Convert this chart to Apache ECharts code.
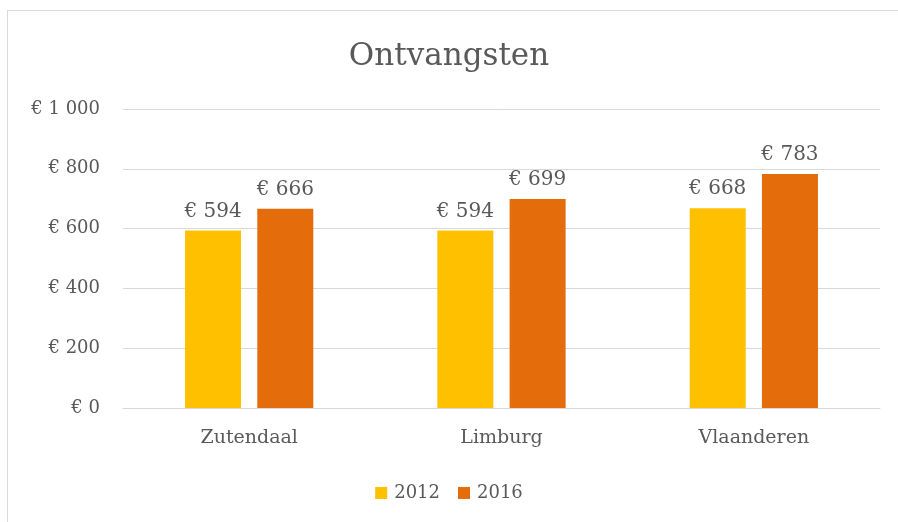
<!DOCTYPE html>
<html>
<head>
<meta charset="utf-8">
<script src="https://cdn.jsdelivr.net/npm/echarts@6/dist/echarts.min.js"></script>
<style>
  html, body { margin: 0; padding: 0; background: #fff; }
  #frame { position: absolute; left: 7px; top: 10px; width: 895px; height: 520px; border: 1px solid #d9d9d9; box-sizing: border-box; }
  #chart { position: absolute; left: 0; top: 0; width: 898px; height: 522px; }
</style>
</head>
<body>
<div id="frame"></div>
<div id="chart"></div>
<script>
const categories = ["Zutendaal", "Limburg", "Vlaanderen"];
const values2012 = [594, 594, 668];
const values2016 = [666, 699, 783];
const yTicks = [0, 200, 400, 600, 800, 1000];

const font = "'DejaVu Serif', serif";
const textColor = "#595959";

function euro(v) {
  // thousands separated with a space, like the original
  return "€ " + String(v).replace(/\B(?=(\d{3})+(?!\d))/g, " ");
}

const chart = echarts.init(document.getElementById("chart"));
chart.setOption({
  animation: false,
  title: {
    text: "Ontvangsten",
    left: "center",
    top: 36,
    textStyle: { fontFamily: font, fontWeight: "normal", fontSize: 31, color: textColor }
  },
  legend: {
    bottom: 15,
    left: "center",
    itemWidth: 12,
    itemHeight: 12,
    itemGap: 18,
    icon: "rect",
    textStyle: { fontFamily: font, fontSize: 18, color: textColor, padding: [0, 0, 0, 2] }
  },
  grid: { left: 123, right: 18, top: 109, bottom: 114, containLabel: false },
  xAxis: {
    type: "category",
    data: categories,
    axisLine: { lineStyle: { color: "#d9d9d9", width: 1 } },
    axisTick: { show: false },
    axisLabel: { fontFamily: font, fontSize: 19, color: textColor, margin: 21 }
  },
  yAxis: {
    type: "value",
    min: yTicks[0],
    max: yTicks[yTicks.length - 1],
    interval: 200,
    axisLine: { show: false },
    axisTick: { show: false },
    splitLine: { lineStyle: { color: "#d9d9d9", width: 1 } },
    axisLabel: { fontFamily: font, fontSize: 18, color: textColor, margin: 23, formatter: euro }
  },
  series: [
    {
      name: "2012",
      type: "bar",
      data: values2012,
      barWidth: 56,
      barGap: "29%",
      itemStyle: { color: "#FFC000" },
      label: { show: true, position: "top", distance: 9, fontFamily: font, fontSize: 20, color: textColor, formatter: p => euro(p.value) }
    },
    {
      name: "2016",
      type: "bar",
      data: values2016,
      barWidth: 56,
      itemStyle: { color: "#E46C0A" },
      label: { show: true, position: "top", distance: 9, fontFamily: font, fontSize: 20, color: textColor, formatter: p => euro(p.value) }
    }
  ]
});
</script>
</body>
</html>
